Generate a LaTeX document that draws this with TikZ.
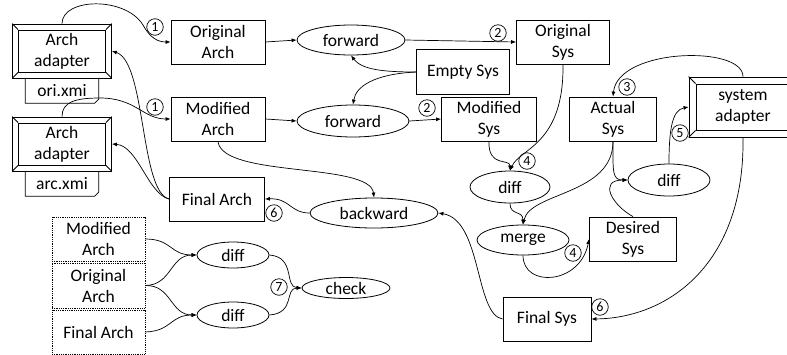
\documentclass[tikz,border=0pt]{standalone}
\usepackage{fontspec}
\setmainfont{Carlito}
\usetikzlibrary{arrows.meta,shapes.geometric}
\begin{document}
\begin{tikzpicture}[x=1pt,y=-1pt,
  every node/.style={font=\fontsize{17.5}{21}\selectfont},
  bx/.style={draw, line width=0.8pt, align=center, inner sep=0pt},
  ell/.style={draw, ellipse, line width=0.8pt, inner sep=0pt},
  num/.style={draw, circle, line width=0.7pt, inner sep=0pt, minimum size=16.5pt, font=\fontsize{14}{14}\selectfont},
  dbox/.style={draw, densely dotted, line width=0.8pt, align=center, inner sep=0pt, minimum width=93pt},
  arr/.style={-{Latex[length=5pt,width=4pt]}, line width=0.7pt},
  ln/.style={line width=0.8pt}]
\useasboundingbox (0,0) rectangle (787,354);
\clip (0,0) rectangle (787,354);

% Arch adapter 1
\node[bx, minimum width=99pt, minimum height=54pt] (aa1) at (62,51) {};
\node[bx, minimum width=87pt, minimum height=42pt] (aa1in) at (62,51) {Arch\\adapter};
\draw[ln] (aa1.north west) -- (aa1in.north west) (aa1.north east) -- (aa1in.north east)
  (aa1.south west) -- (aa1in.south west) (aa1.south east) -- (aa1in.south east);
\node[minimum width=73pt, minimum height=25pt, inner sep=0pt] (ori) at (62,90.5) {ori.xmi};
\draw[ln] (ori.north west) -- (ori.south west) -- ([xshift=-4pt]ori.south east) -- ([yshift=4pt]ori.south east) -- (ori.north east);

% Arch adapter 2
\node[bx, minimum width=99pt, minimum height=54pt] (aa2) at (62,144) {};
\node[bx, minimum width=87pt, minimum height=42pt] (aa2in) at (62,144) {Arch\\adapter};
\draw[ln] (aa2.north west) -- (aa2in.north west) (aa2.north east) -- (aa2in.north east)
  (aa2.south west) -- (aa2in.south west) (aa2.south east) -- (aa2in.south east);
\node[minimum width=73pt, minimum height=25pt, inner sep=0pt] (arc) at (62,183.5) {arc.xmi};
\draw[ln] (arc.north west) -- (arc.south west) -- ([xshift=-4pt]arc.south east) -- ([yshift=4pt]arc.south east) -- (arc.north east);

% Arch boxes
\node[bx, minimum width=94pt, minimum height=44pt] (origArch) at (218,42) {Original\\Arch};
\node[bx, minimum width=94pt, minimum height=44pt] (modArch) at (218,119) {Modified\\Arch};
\node[bx, minimum width=95pt, minimum height=44pt] (finalArch) at (217,199) {Final Arch};

% forward ellipses
\node[ell, minimum width=108pt, minimum height=30pt] (fw1) at (351,40) {forward};
\node[ell, minimum width=112pt, minimum height=32pt] (fw2) at (353,121) {forward};
\node[bx, minimum width=93pt, minimum height=45pt] (empty) at (463,72) {Empty Sys};
\node[bx, minimum width=93pt, minimum height=44pt] (origSys) at (563,42) {Original\\Sys};
\node[bx, minimum width=95pt, minimum height=44pt] (modSys) at (489,119) {Modified\\Sys};
\node[bx, minimum width=87pt, minimum height=44pt] (actSys) at (613,119) {Actual\\Sys};

% system adapter
\node[bx, minimum width=108pt, minimum height=60pt] (sa) at (743,107) {};
\node[bx, minimum width=94pt, minimum height=46pt] (sain) at (743,107) {system\\adapter};
\draw[ln] (sa.north west) -- (sain.north west) (sa.north east) -- (sain.north east)
  (sa.south west) -- (sain.south west) (sa.south east) -- (sain.south east);

% middle
\node[ell, minimum width=80pt, minimum height=32pt] (diff1) at (510,187) {diff};
\node[ell, minimum width=92pt, minimum height=30pt] (merge) at (523,240) {merge};
\node[ell, minimum width=82pt, minimum height=32pt] (diff2) at (669,180) {diff};
\node[bx, minimum width=87pt, minimum height=44pt] (desired) at (633,239) {Desired\\Sys};
\node[bx, minimum width=88pt, minimum height=44pt] (finalSys) at (547,319) {Final Sys};
\node[ell, minimum width=128pt, minimum height=30pt] (backward) at (374,213) {backward};

% bottom-left
\node[dbox, minimum height=44pt] (sm) at (98.5,239) {Modified\\Arch};
\node[dbox, minimum height=45pt] (so) at (98.5,285.5) {Original\\Arch};
\node[dbox, minimum height=44pt] (sf) at (98.5,332) {Final Arch};
\node[ell, minimum width=72pt, minimum height=26pt] (diffA) at (233,255) {diff};
\node[ell, minimum width=72pt, minimum height=26pt] (diffB) at (233,315) {diff};
\node[ell, minimum width=88pt, minimum height=21pt] (check) at (346,288) {check};

% numbered circles
\node[num] (n1a) at (155,27) {1};
\node[num] (n1b) at (155,107) {1};
\node[num] (n2a) at (498,33) {2};
\node[num] (n2b) at (427,108) {2};
\node[num] (n3) at (627,87) {3};
\node[num] (n4a) at (527,161) {4};
\node[num] (n4b) at (573,253) {4};
\node[num] (n5) at (680,133) {5};
\node[num] (n6a) at (274,213) {6};
\node[num] (n6b) at (600,307) {6};
\node[num] (n7) at (279,287) {7};

% connectors
\draw[arr] (aa1.north) .. controls (62,-2) and (125,-4) .. (143,25) .. controls (150,38) and (158,42) .. (origArch.west);
\draw[arr] (aa2.north) .. controls (62,102) and (75,98) .. (100,98) .. controls (136,98) and (143,119) .. (modArch.west);
\draw[arr] (origArch.east) -- (fw1.west);
\draw[arr] (fw1.east) -- (origSys.west);
\draw[arr] (empty.west) .. controls (385,72) and (362,70) .. (fw1.south);
\draw[arr] (empty.west) .. controls (375,74) and (356,86) .. (fw2.north);
\draw[arr] (modArch.east) -- (fw2.west);
\draw[arr] (fw2.east) -- (modSys.west);
\draw[arr] (modSys.south) .. controls (488,168) and (510,158) .. (diff1.north);
\draw[arr] (origSys.south) .. controls (564,145) and (520,148) .. (diff1.north);
\draw[arr] (diff1.south) .. controls (510,216) and (523,210) .. (merge.north);
\draw[arr] (actSys.south) .. controls (613,195) and (530,192) .. (merge.north);
\draw[arr] (actSys.south) .. controls (613,172) and (612,180) .. (diff2.west);
\draw[arr] (merge.south) .. controls (523,288) and (580,285) .. (desired.west);
\draw[arr] (desired.north) .. controls (612,205) and (598,180) .. (diff2.west);
\draw[arr] (diff2.north) .. controls (669,130) and (672,110) .. (sa.west);
\draw[arr] (sa.north) .. controls (743,45) and (618,48) .. (actSys.north);
\draw[arr] (sa.south) .. controls (745,262) and (670,318) .. (finalSys.east);
\draw[arr] (finalSys.west) .. controls (475,315) and (482,220) .. (backward.east);
\draw[arr] (modArch.south) .. controls (222,178) and (370,162) .. (backward.north);
\draw[arr] (backward.west) .. controls (290,213) and (290,198) .. (finalArch.east);
\draw[arr] (finalArch.west) .. controls (140,192) and (146,62) .. (aa1.east);
\draw[arr] (finalArch.west) .. controls (148,194) and (138,146) .. (aa2.east);
\draw[arr] (sm.east) .. controls (172,239) and (170,255) .. (diffA.west);
\draw[arr] (so.east) .. controls (172,285) and (170,255) .. (diffA.west);
\draw[arr] (so.east) .. controls (172,285) and (170,315) .. (diffB.west);
\draw[arr] (sf.east) .. controls (172,331) and (170,315) .. (diffB.west);
\draw[arr] (diffA.east) .. controls (296,257) and (284,287) .. (check.west);
\draw[arr] (diffB.east) .. controls (296,313) and (284,288) .. (check.west);
\end{tikzpicture}
\end{document}
